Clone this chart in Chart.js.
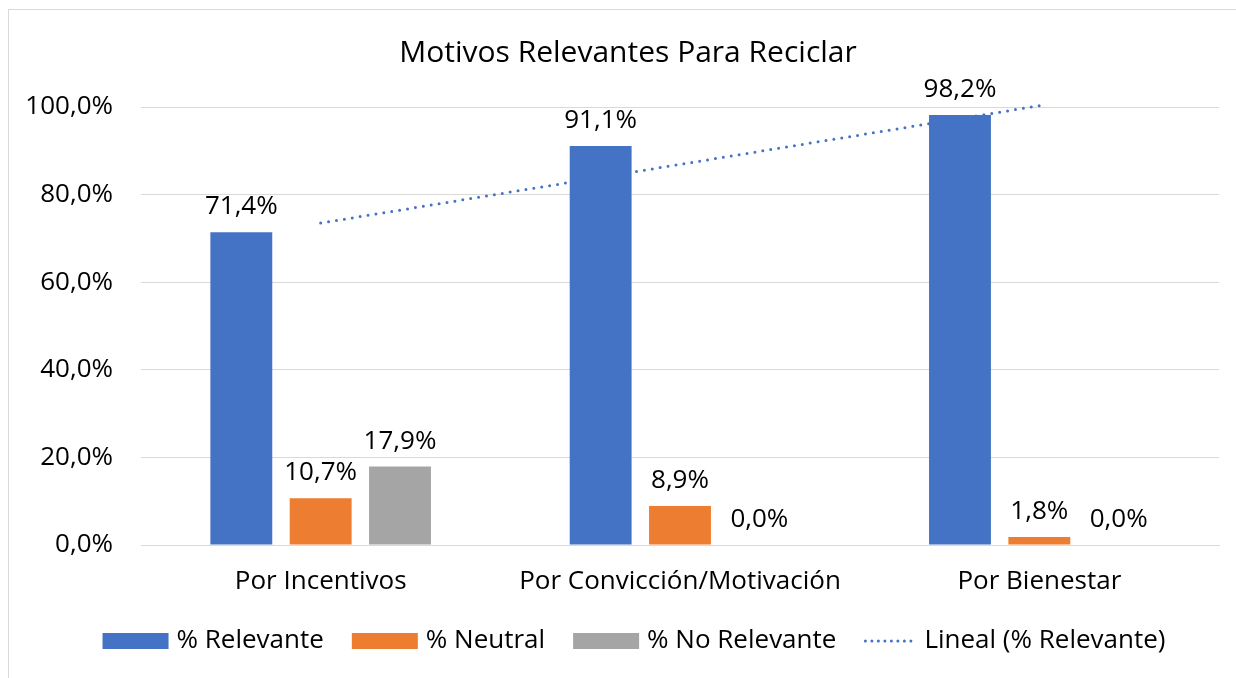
<!DOCTYPE html>
<html>
<head>
<meta charset="utf-8">
<script src="https://cdn.jsdelivr.net/npm/chart.js@4.4.1/dist/chart.umd.min.js"></script>
<style>
  html, body { margin: 0; background: #fff; }
  #wrap { position: relative; width: 1236px; height: 678px; }
</style>
</head>
<body>
<div id="wrap"><canvas id="chart"></canvas></div>
<script>
// Motivos relevantes para reciclar: grouped bars + linear trend of "% Relevante".

const CATEGORIES = ["Por Incentivos", "Por Convicción/Motivación", "Por Bienestar"];
const RELEVANTE = [71.4, 91.1, 98.2];
const NEUTRAL = [10.7, 8.9, 1.8];
const NO_RELEVANTE = [17.9, 0.0, 0.0];
// dotted trend line (start, middle, end)
const TENDENCIA = [73.5, 86.9, 100.3];
const Y_MIN = 0, Y_MAX = 100, Y_STEP = 20;

const TITLE = "Motivos Relevantes Para Reciclar";
const BLUE = "#4472c4", ORANGE = "#ed7d31", GRAY = "#a5a5a5";
const FONT = "'Open Sans', 'Noto Sans', sans-serif";
const TXT = "#000000";
const SIZE = 26;

const pct = (v) => v.toFixed(1).replace(".", ",") + "%";

// Excel-like chart frame + title
const frame = {
  id: "frame",
  beforeDraw(chart) {
    const { ctx } = chart;
    ctx.save();
    ctx.strokeStyle = "#d9d9d9";
    ctx.lineWidth = 1;
    ctx.strokeRect(8.5, 9.5, chart.width + 20, chart.height + 20);
    ctx.fillStyle = TXT;
    ctx.font = `30px ${FONT}`;
    ctx.textAlign = "center";
    ctx.textBaseline = "middle";
    ctx.fillText(TITLE, 628, 53);
    ctx.restore();
  },
};

// value labels above each bar
const barLabels = {
  id: "barLabels",
  afterDatasetsDraw(chart) {
    const { ctx } = chart;
    ctx.save();
    ctx.fillStyle = TXT;
    ctx.font = `${SIZE}px ${FONT}`;
    ctx.textAlign = "center";
    ctx.textBaseline = "alphabetic";
    chart.data.datasets.forEach((ds, i) => {
      if (ds.type === "line") return;
      const meta = chart.getDatasetMeta(i);
      meta.data.forEach((bar, j) => {
        ctx.fillText(pct(ds.data[j]), bar.x, bar.y - 18);
      });
    });
    ctx.restore();
  },
};

// legend row at the bottom
const legendRow = {
  id: "legendRow",
  afterDraw(chart) {
    const { ctx } = chart;
    const items = chart.data.datasets.map((ds) => ({
      text: ds.label,
      line: ds.type === "line",
      color: ds.type === "line" ? ds.borderColor : ds.backgroundColor,
    }));
    ctx.save();
    ctx.font = `${SIZE}px ${FONT}`;
    const boxW = 66, lineW = 52, gap = 8, spacing = 28;
    const widths = items.map((it) => (it.line ? lineW : boxW) + gap + ctx.measureText(it.text).width);
    const total = widths.reduce((a, b) => a + b, 0) + spacing * (items.length - 1);
    let x = 634 - total / 2;
    const y = 641;
    items.forEach((it, i) => {
      if (it.line) {
        ctx.strokeStyle = it.color;
        ctx.lineWidth = 3;
        ctx.lineCap = "round";
        ctx.setLineDash([0, 6.5]);
        ctx.beginPath();
        ctx.moveTo(x + 1, y);
        ctx.lineTo(x + lineW, y);
        ctx.stroke();
        ctx.setLineDash([]);
      } else {
        ctx.fillStyle = it.color;
        ctx.fillRect(x, y - 8, boxW, 16);
      }
      const tx = x + (it.line ? lineW : boxW) + gap;
      ctx.fillStyle = TXT;
      ctx.textAlign = "left";
      ctx.textBaseline = "middle";
      ctx.fillText(it.text, tx, y);
      x += widths[i] + spacing;
    });
    ctx.restore();
  },
};

const barDs = (label, data, color) => ({
  type: "bar",
  label,
  data,
  backgroundColor: color,
  categoryPercentage: 0.6625,
  barPercentage: 0.78,
  order: 1,
});

new Chart(document.getElementById("chart"), {
  data: {
    labels: CATEGORIES,
    datasets: [
      barDs("% Relevante", RELEVANTE, BLUE),
      barDs("% Neutral", NEUTRAL, ORANGE),
      barDs("% No Relevante", NO_RELEVANTE, GRAY),
      {
        type: "line",
        label: "Lineal (% Relevante)",
        data: TENDENCIA,
        borderColor: BLUE,
        borderWidth: 3,
        borderDash: [0, 8],
        borderCapStyle: "round",
        pointRadius: 0,
        fill: false,
        clip: false,
        order: 10,
      },
    ],
  },
  options: {
    responsive: true,
    maintainAspectRatio: false,
    animation: false,
    layout: { padding: { left: 0, top: 107, right: 17, bottom: 0 } },
    plugins: {
      legend: { display: false },
      title: { display: false },
      tooltip: { enabled: false },
    },
    scales: {
      x: {
        grid: { display: false, drawTicks: false },
        border: { color: "#d9d9d9", width: 1 },
        ticks: { color: TXT, font: { family: FONT, size: SIZE }, padding: 21, maxRotation: 0 },
        afterFit: (s) => { s.height = 133; },
      },
      y: {
        min: Y_MIN,
        max: Y_MAX,
        grid: { color: "#d9d9d9", drawTicks: false },
        border: { display: false },
        ticks: {
          stepSize: Y_STEP,
          color: TXT,
          padding: 28,
          font: { family: FONT, size: SIZE },
          callback: (v) => pct(v),
        },
        afterFit: (s) => { s.width = 141; },
      },
    },
  },
  plugins: [frame, barLabels, legendRow],
});
</script>
</body>
</html>
